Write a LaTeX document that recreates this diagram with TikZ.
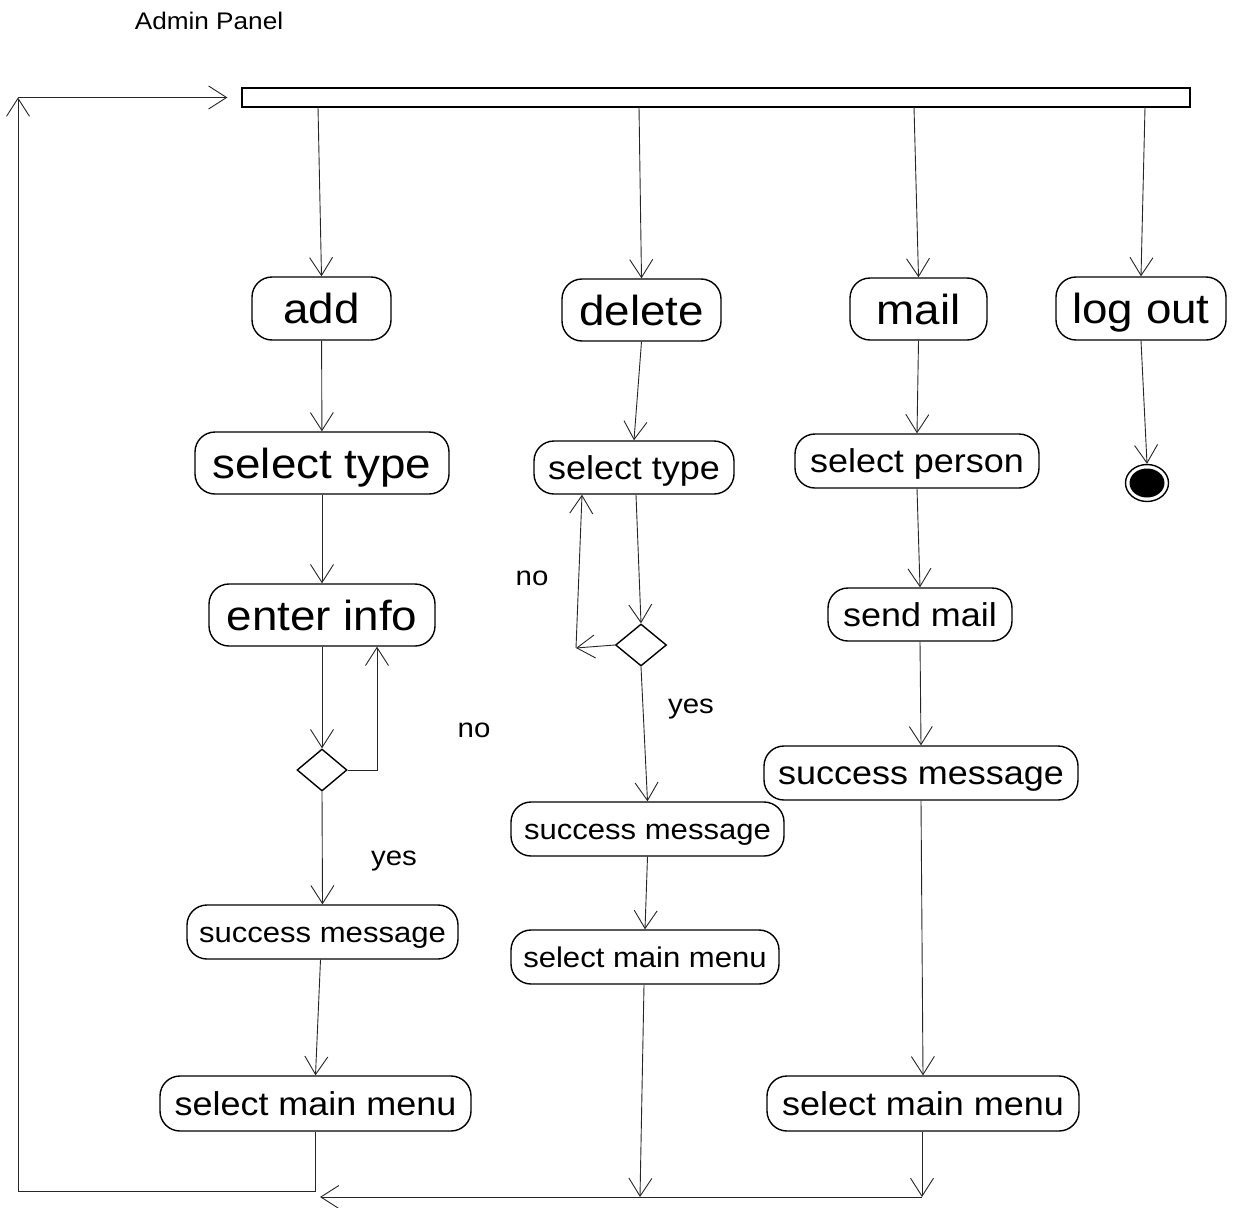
\documentclass[tikz,border=0pt]{standalone}
\usepackage{fontspec}
\setmainfont{Liberation Sans}[FakeStretch=1.09]
\usetikzlibrary{arrows.meta,shapes.geometric,calc}

\tikzset{
  activity/.style={draw, line width=1.4pt, rectangle, rounded corners=20pt, inner sep=0pt, text depth=0pt},
  bigtext/.style={font=\fontsize{42}{48}\selectfont, text height=30pt},
  midtext/.style={font=\fontsize{33}{38}\selectfont, text height=23.8pt},
  smalltext/.style={font=\fontsize{28.5}{33}\selectfont, text height=20.5pt},
  guard/.style={font=\fontsize{27}{32}\selectfont},
  decision/.style={draw, line width=1.4pt, diamond, inner sep=0pt, minimum width=50pt, minimum height=42pt},
  flow/.style={line width=0.9pt, draw=black!85, -{Straight Barb[length=18pt,width=23pt,line width=0.9pt]}},
  plain/.style={line width=0.9pt, draw=black!85}
}

\begin{document}
\begin{tikzpicture}[x=1pt,y=-1pt]
  \useasboundingbox (0,0) rectangle (1239,1207);

  \node[font=\fontsize{24}{28}\selectfont] (title) at (209,21) {Admin Panel};

  % fork bar
  \node[draw, line width=1.2pt, minimum width=948pt, minimum height=19pt, inner sep=0pt] (fork) at (716,97.5) {};
  \coordinate (f1) at (318,107);
  \coordinate (f2) at (639,107);
  \coordinate (f3) at (914,107);
  \coordinate (f4) at (1145,107);

  % top row
  \node[activity, bigtext, minimum width=139pt, minimum height=63pt] (add) at (321.5,308.5) {add};
  \node[activity, bigtext, minimum width=159pt, minimum height=62pt] (delete) at (641.5,310) {delete};
  \node[activity, bigtext, minimum width=137pt, minimum height=62pt] (mail) at (918.5,309) {mail};
  \node[activity, bigtext, minimum width=170pt, minimum height=63pt] (logout) at (1141,308.5) {log out};

  % add column
  \node[activity, bigtext, minimum width=254pt, minimum height=62pt] (atype) at (322,463) {select type};
  \node[activity, bigtext, minimum width=226pt, minimum height=62pt] (ainfo) at (322,615) {enter info};
  \node[decision] (adec) at (322,770) {};
  \node[activity, smalltext, minimum width=271pt, minimum height=54pt] (asucc) at (322.5,932) {success message};
  \node[activity, midtext, minimum width=311pt, minimum height=55pt] (amenu) at (315.5,1103.5) {select main menu};

  % delete column
  \node[activity, midtext, minimum width=200pt, minimum height=53pt] (dtype) at (634,467.5) {select type};
  \node[decision, minimum width=51pt] (ddec) at (641,645) {};
  \node[activity, smalltext, minimum width=273pt, minimum height=54pt] (dsucc) at (647.5,829) {success message};
  \node[activity, smalltext, minimum width=268pt, minimum height=54pt] (dmenu) at (645,957) {select main menu};

  % mail column
  \node[activity, midtext, minimum width=244pt, minimum height=54pt] (mperson) at (917,461) {select person};
  \node[activity, midtext, minimum width=184pt, minimum height=53pt] (msend) at (920,614.5) {send mail};
  \node[activity, midtext, minimum width=314pt, minimum height=54pt] (msucc) at (921,773) {success message};
  \node[activity, midtext, minimum width=312pt, minimum height=55pt] (mmenu) at (923,1103.5) {select main menu};

  % final state
  \node[draw, ellipse, line width=1.4pt, minimum width=43pt, minimum height=37pt, inner sep=0pt] (stop) at (1147,483) {};
  \node[fill=black, ellipse, minimum width=35pt, minimum height=29pt, inner sep=0pt] (stopdot) at (stop) {};

  % guards
  \node[guard] (ano) at (474,730) {no};
  \node[guard] (ayes) at (394,861) {yes};
  \node[guard] (dno) at (532,578) {no};
  \node[guard] (dyes) at (691,709) {yes};

  % from the fork
  \draw[flow] (f1) -- (add.north);
  \draw[flow] (f2) -- (delete.north);
  \draw[flow] (f3) -- (mail.north);
  \draw[flow] (f4) -- (logout.north);

  % add flow
  \draw[flow] (add) -- (atype);
  \draw[flow] (atype) -- (ainfo);
  \draw[flow] (ainfo) -- (adec.north);
  \draw[flow] (adec.east) -| ([xshift=55pt]ainfo.south);
  \draw[flow] (adec.south) -- (asucc.north);
  \draw[flow] ([xshift=-2pt]asucc.south) -- (amenu.north);

  % delete flow
  \coordinate (dloop) at (576,648);
  \draw[flow] (delete.south) -- (dtype.north);
  \draw[flow] ([xshift=2pt]dtype.south) -- (ddec.north);
  \draw[flow] (ddec.west) -- (dloop);
  \draw[flow] (dloop) -- ([xshift=-52pt]dtype.south);
  \draw[flow] (ddec.south) -- (dsucc.north);
  \draw[flow] (dsucc.south) -- (dmenu.north);

  % mail flow
  \draw[flow] (mail.south) -- (mperson.north);
  \draw[flow] (mperson.south) -- (msend.north);
  \draw[flow] (msend.south) -- (msucc.north);
  \draw[flow] (msucc.south) -- (mmenu.north);

  % log out
  \draw[flow] (logout.south) -- (stop.north);

  % join and loop back
  \coordinate (jd) at (640,1197);
  \coordinate (jm) at (922,1197);
  \coordinate (jend) at (320,1197);
  \draw[flow] ([xshift=-1pt]dmenu.south) -- (jd);
  \draw[flow] ([xshift=-1pt]mmenu.south) -- (jm);
  \draw[flow] (jm) -- (jend);

  \coordinate (lb) at (18,1191);
  \coordinate (lt) at (18,97.5);
  \draw[plain] (amenu.south) |- (lb);
  \draw[flow] (lb) -- (lt);
  \draw[flow] (lt) -- ([xshift=-14pt]fork.west);
\end{tikzpicture}
\end{document}
